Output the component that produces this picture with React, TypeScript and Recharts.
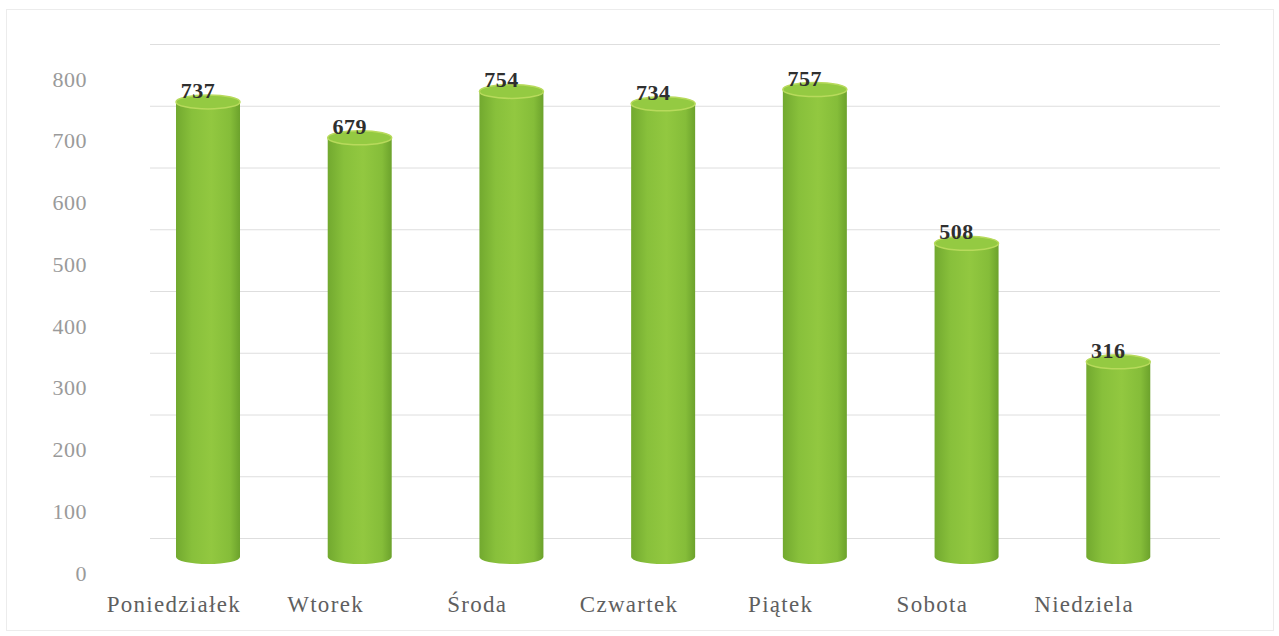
import { BarChart, Bar, XAxis, YAxis, CartesianGrid, LabelList } from "recharts";

const days = ["Poniedziałek", "Wtorek", "Środa", "Czwartek", "Piątek", "Sobota", "Niedziela"];
const counts = [737, 679, 754, 734, 757, 508, 316];
const yTicks = [0, 100, 200, 300, 400, 500, 600, 700, 800];

const data = days.map((day, i) => ({ day, count: counts[i] }));

const FONT = '"Liberation Serif", "DejaVu Serif", serif';

// cylinder bar, like the 3D column in the source
function Cylinder(props: any) {
  const { x, y, width, height } = props;
  if (!height) return null;
  const rx = width / 2;
  const ry = 7;
  const cx = x + rx;
  const bottom = y + height;
  return (
    <g>
      <path
        d={`M${x},${y} L${x},${bottom} A${rx},${ry} 0 0 0 ${x + width},${bottom} L${x + width},${y} Z`}
        fill="url(#cylBody)"
      />
      <ellipse cx={cx} cy={y} rx={rx} ry={ry} fill="#94ca42" stroke="#b8da5c" strokeWidth={1.5} />
    </g>
  );
}

function YTick(props: any) {
  const { x, y, payload } = props;
  return (
    <text x={x} y={y + 16} dy="0.35em" textAnchor="end" fill="#9a9a9a" fontSize={22} letterSpacing={0.5} fontFamily={FONT}>
      {payload.value}
    </text>
  );
}

function XTick(props: any) {
  const { x, y, payload } = props;
  return (
    <text x={x - 34} y={y} dy="0.8em" textAnchor="middle" fill="#5f5f5f" fontSize={23} letterSpacing={1.3} fontFamily={FONT}>
      {payload.value}
    </text>
  );
}

function ValueLabel(props: any) {
  const { x, y, width, value } = props;
  return (
    <text x={x + width / 2 - 10} y={y - 4} textAnchor="middle" fill="#2f2f2f" fontSize={22} letterSpacing={0.5} fontWeight="bold" fontFamily={FONT}>
      {value}
    </text>
  );
}

export default function App() {
  return (
    <div style={{ position: "absolute", left: 0, top: 0, width: 1279, height: 636, background: "#fff" }}>
      <div style={{ position: "absolute", left: 6, top: 9, right: 5, bottom: 5, border: "1px solid #ececec" }} />
      <BarChart width={1279} height={636} data={data} margin={{ top: 63, right: 85, bottom: 0, left: 0 }}>
        <defs>
          <linearGradient id="cylBody" x1="0" y1="0" x2="1" y2="0">
            <stop offset="0%" stopColor="#72a92f" />
            <stop offset="25%" stopColor="#88c03b" />
            <stop offset="55%" stopColor="#92c840" />
            <stop offset="85%" stopColor="#85bd39" />
            <stop offset="100%" stopColor="#6ca22c" />
          </linearGradient>
        </defs>
        <CartesianGrid
          vertical={false}
          stroke="#dedede"
          x={150}
          width={1070}
          horizontalCoordinatesGenerator={({ yAxis, offset }: any) =>
            yTicks.map((v) =>
              yAxis && typeof yAxis.scale === "function"
                ? yAxis.scale(v) - 18.5
                : offset.top + offset.height * (1 - v / 800) - 18.5
            )
          }
        />
        <XAxis
          dataKey="day"
          axisLine={false}
          tickLine={false}
          height={79}
          tickSize={0}
          tickMargin={37}
          tick={<XTick />}
          interval={0}
        />
        <YAxis
          domain={[0, 800]}
          ticks={yTicks}
          axisLine={false}
          tickLine={false}
          width={132}
          tickSize={0}
          tickMargin={45}
          tick={<YTick />}
        />
        <Bar dataKey="count" barSize={64} shape={<Cylinder />} isAnimationActive={false}>
          <LabelList dataKey="count" content={<ValueLabel />} />
        </Bar>
      </BarChart>
    </div>
  );
}
